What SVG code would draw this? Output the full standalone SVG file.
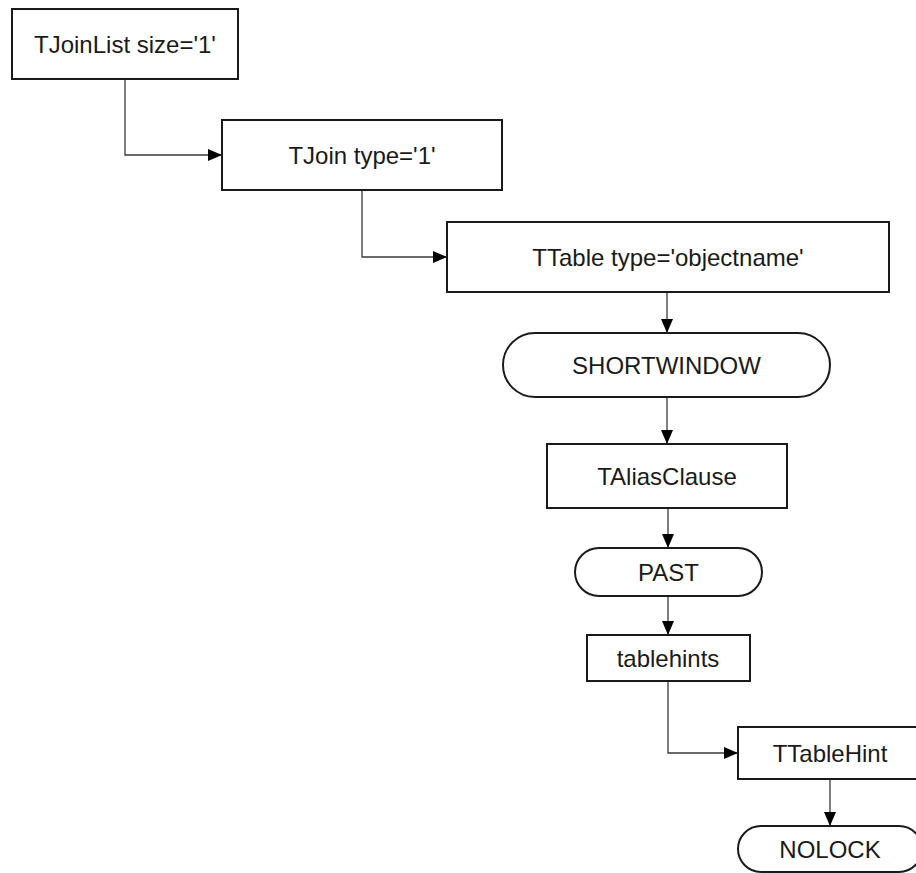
<svg xmlns="http://www.w3.org/2000/svg" width="916" height="873" viewBox="0 0 916 873">
  <style>
    .box { fill: #ffffff; stroke: #1a1a1a; stroke-width: 2; }
    .lbl { font-family: "Liberation Sans", Arial, sans-serif; font-size: 24px; fill: #1a1a1a; text-anchor: middle; }
    .edge { fill: none; stroke: #3a3a3a; stroke-width: 1.3; marker-end: url(#arrow); }
  </style>
  <defs>
    <marker id="arrow" markerUnits="userSpaceOnUse" markerWidth="14" markerHeight="12" refX="14" refY="6" orient="auto">
      <path d="M0,0 L14,6 L0,12 Z" fill="#000000"/>
    </marker>
  </defs>
  <rect width="916" height="873" fill="#ffffff"/>

  <g id="connectors">
    <path class="edge" d="M125,79 V155 H222"/>
    <path class="edge" d="M362,190 V257 H447"/>
    <path class="edge" d="M667,292 V333"/>
    <path class="edge" d="M667,397 V444"/>
    <path class="edge" d="M668,508 V548"/>
    <path class="edge" d="M668,596 V635"/>
    <path class="edge" d="M668,681 V753 H738"/>
    <path class="edge" d="M830,779 V826"/>
  </g>

  <g id="n-tjoinlist">
    <rect class="box" x="12" y="9" width="226" height="70"/>
    <text class="lbl" x="125" y="52.5">TJoinList size='1'</text>
  </g>
  <g id="n-tjoin">
    <rect class="box" x="222" y="120" width="280" height="70"/>
    <text class="lbl" x="362" y="163.5">TJoin type='1'</text>
  </g>
  <g id="n-ttable">
    <rect class="box" x="447" y="222" width="442" height="70"/>
    <text class="lbl" x="668" y="265.5">TTable type='objectname'</text>
  </g>
  <g id="n-shortwindow">
    <rect class="box" x="503" y="333" width="327" height="64" rx="32" ry="32"/>
    <text class="lbl" x="666.5" y="373.5">SHORTWINDOW</text>
  </g>
  <g id="n-taliasclause">
    <rect class="box" x="547" y="444" width="240" height="64"/>
    <text class="lbl" x="667" y="484.5">TAliasClause</text>
  </g>
  <g id="n-past">
    <rect class="box" x="575" y="548" width="187" height="48" rx="24" ry="24"/>
    <text class="lbl" x="668.5" y="580.5">PAST</text>
  </g>
  <g id="n-tablehints">
    <rect class="box" x="587" y="635" width="163" height="46"/>
    <text class="lbl" x="668" y="666.5">tablehints</text>
  </g>
  <g id="n-ttablehint">
    <rect class="box" x="738" y="727" width="184" height="52"/>
    <text class="lbl" x="830" y="761.5">TTableHint</text>
  </g>
  <g id="n-nolock">
    <rect class="box" x="738" y="826" width="184" height="46" rx="23" ry="23"/>
    <text class="lbl" x="830" y="857.5">NOLOCK</text>
  </g>
</svg>
